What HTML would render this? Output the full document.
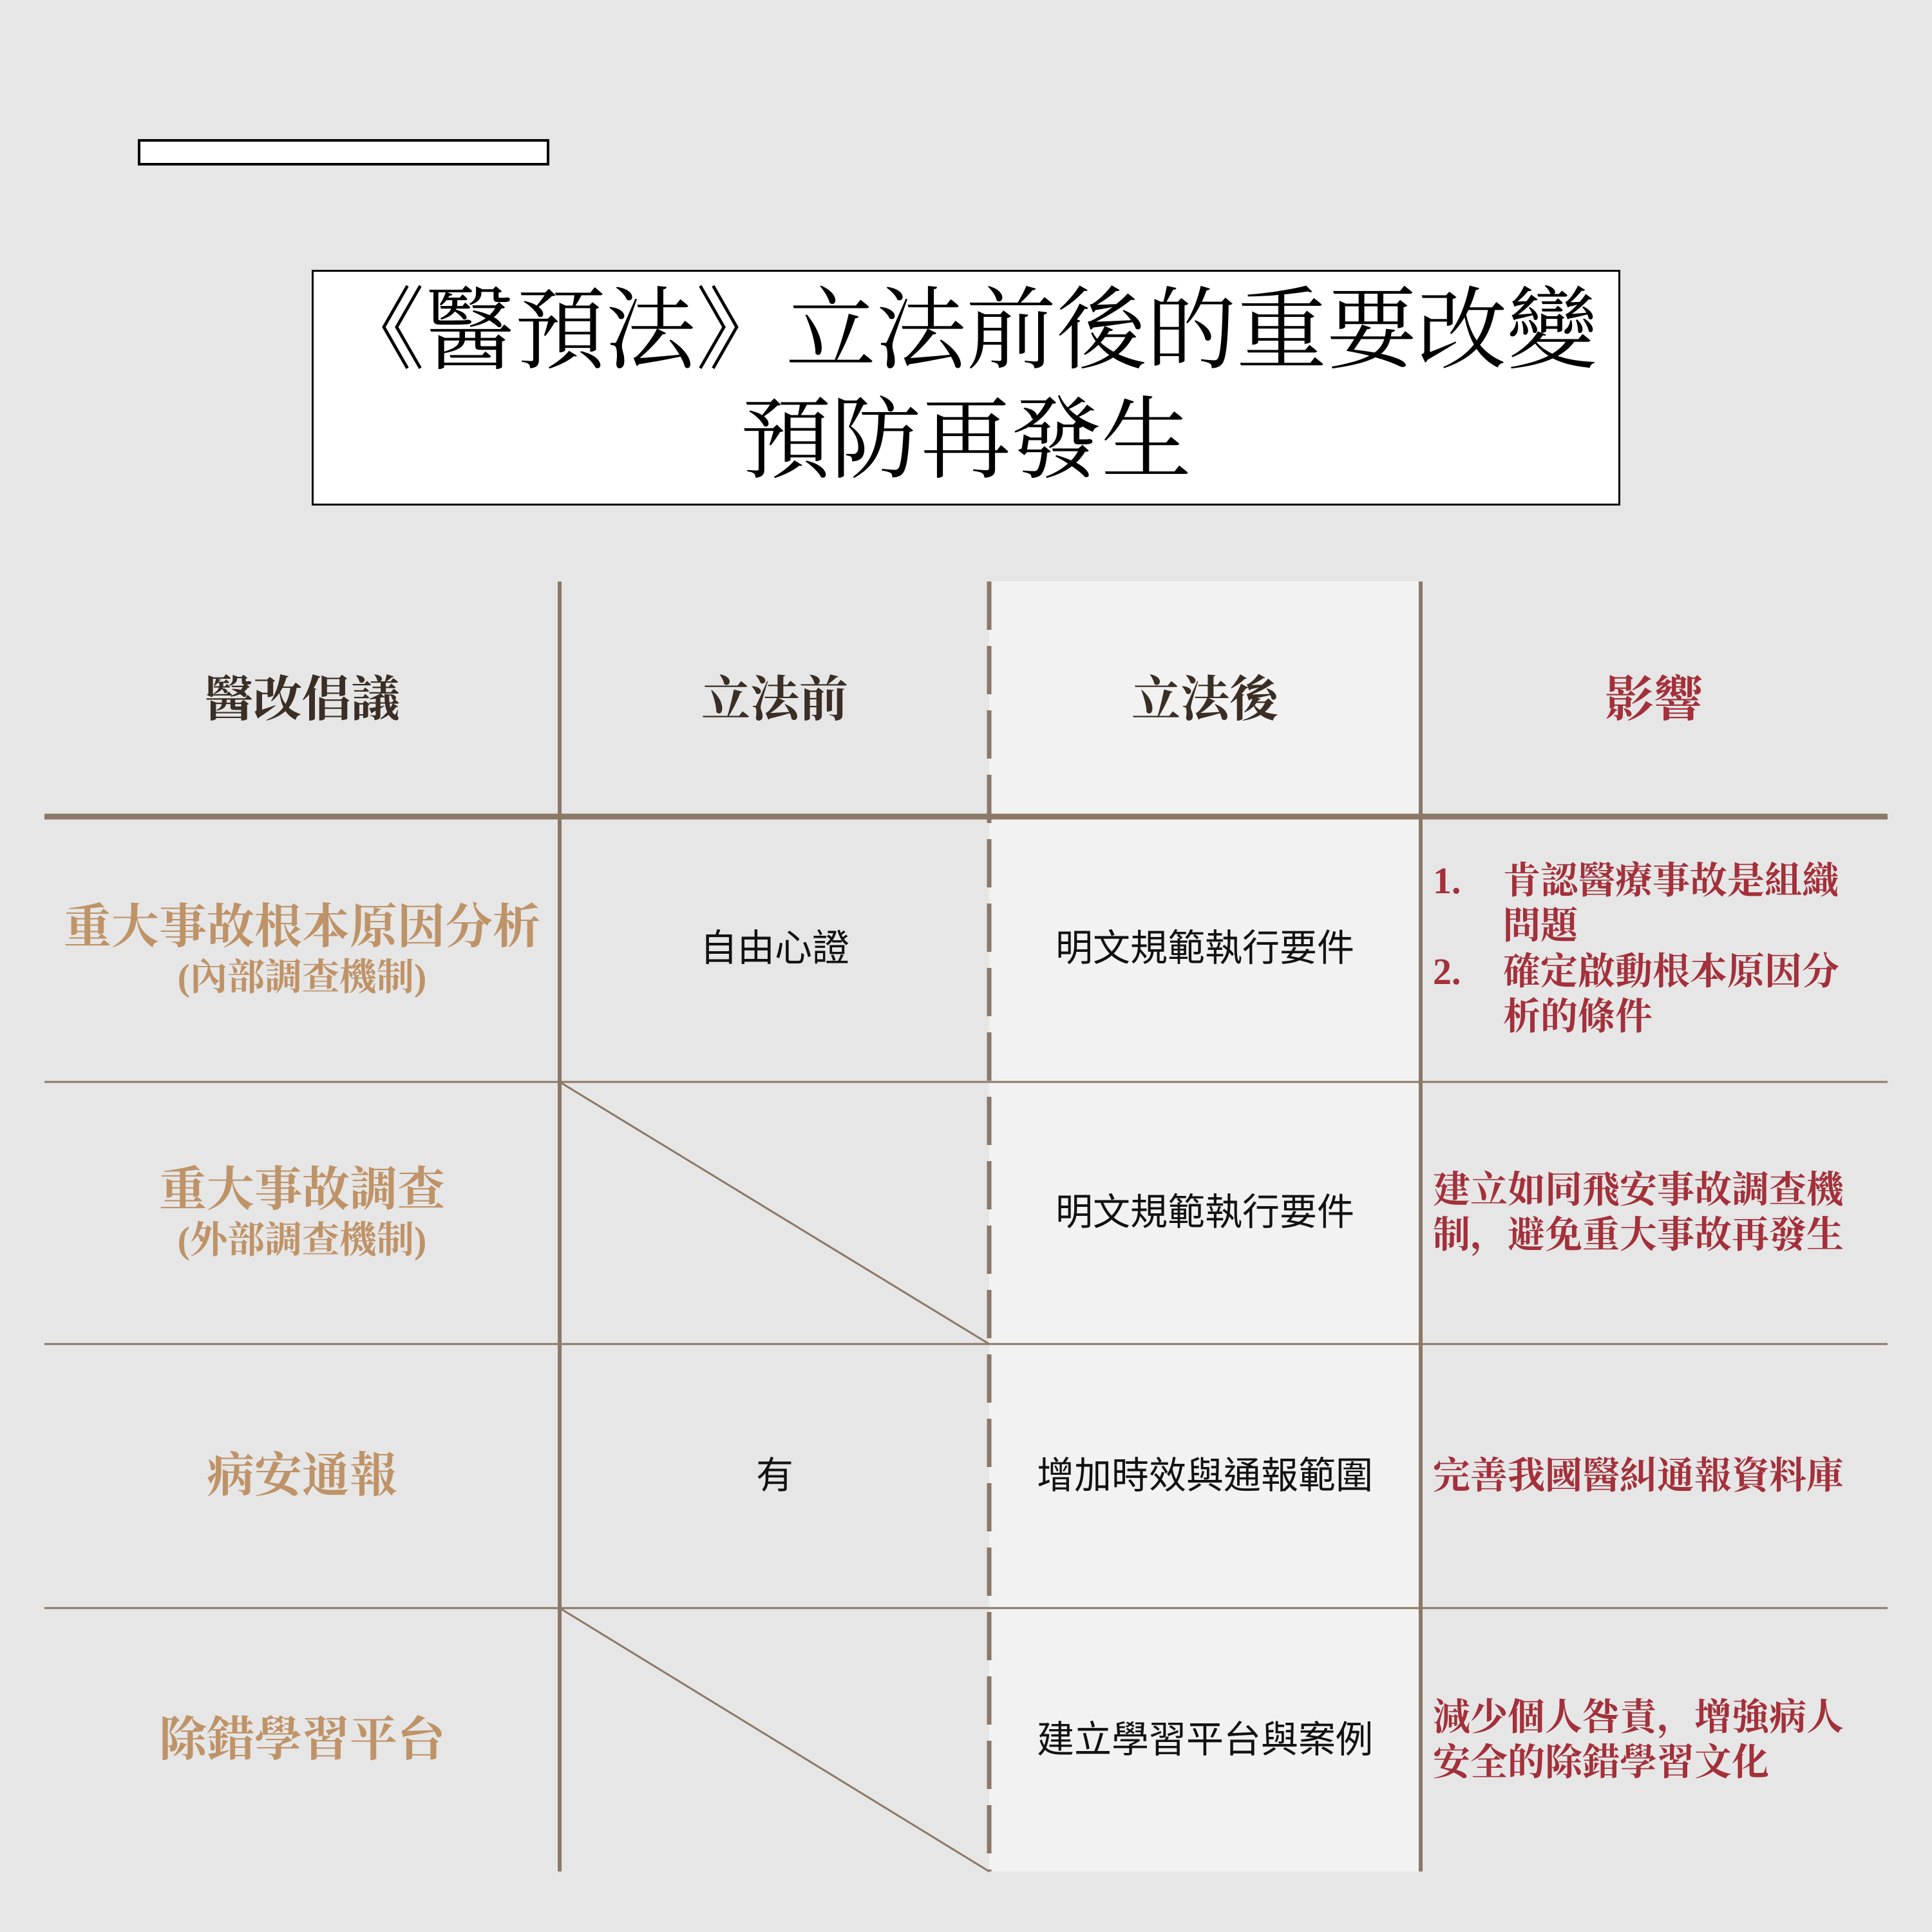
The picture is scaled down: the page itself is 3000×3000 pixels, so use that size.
<!DOCTYPE html>
<html><head><meta charset="utf-8"><style>
html,body{margin:0;padding:0}
body{width:3000px;height:3000px;background:#e6e6e6;position:relative;overflow:hidden;font-family:"Liberation Serif","Noto Serif CJK SC",serif}
.t{position:absolute;white-space:nowrap;text-align:center;transform:translate(-50%,-50%);line-height:1}
.h{font-weight:bold;font-size:76px;color:#3a2e25}
.c1{font-weight:bold;color:#bf9368;font-size:74px}
.c1 small{font-size:58px;display:block;margin-top:12px}
.s{font-family:"Liberation Sans","Noto Sans CJK TC",sans-serif;font-size:58px;color:#111}
.r{position:absolute;font-weight:bold;color:#a3303a;font-size:58px;line-height:70px;white-space:nowrap}
</style></head><body>
<div style="position:absolute;left:214px;top:216px;width:631px;height:33px;background:#fff;border:4px solid #000"></div>
<div style="position:absolute;left:484px;top:419px;width:2026px;height:360px;background:#fff;border:3px solid #000"></div>
<div class="t" style="left:1500px;top:515px;font-size:140px;color:#000;font-family:'Liberation Serif','Noto Serif CJK TC','Noto Serif CJK SC',serif">《醫預法》立法前後的重要改變</div>
<div class="t" style="left:1500px;top:685px;font-size:140px;color:#000;font-family:'Liberation Serif','Noto Serif CJK TC','Noto Serif CJK SC',serif">預防再發生</div>
<svg width="3000" height="3000" style="position:absolute;left:0;top:0">
<rect x="1536" y="903" width="670" height="2003" fill="#f2f2f2"/>
<g stroke="#8b7866">
<line x1="869" y1="903" x2="869" y2="2906" stroke-width="6"/>
<line x1="2206" y1="903" x2="2206" y2="2906" stroke-width="6"/>
<line x1="1536" y1="903" x2="1536" y2="2906" stroke-width="7" stroke-dasharray="75,25"/>
<line x1="69" y1="1268" x2="2931" y2="1268" stroke-width="9"/>
<line x1="69" y1="1680" x2="2931" y2="1680" stroke-width="3"/>
<line x1="69" y1="2087" x2="2931" y2="2087" stroke-width="3"/>
<line x1="69" y1="2497" x2="2931" y2="2497" stroke-width="3"/>
<line x1="869" y1="1680" x2="1536" y2="2087" stroke-width="3"/>
<line x1="869" y1="2497" x2="1536" y2="2906" stroke-width="3"/>
</g></svg>
<div class="t h" style="left:469px;top:1087px">醫改倡議</div>
<div class="t h" style="left:1203px;top:1087px">立法前</div>
<div class="t h" style="left:1871px;top:1087px">立法後</div>
<div class="t h" style="left:2568px;top:1087px;color:#a3303a">影響</div>

<div class="t c1" style="left:469px;top:1475px">重大事故根本原因分析<small>(內部調查機制)</small></div>
<div class="t c1" style="left:469px;top:1883px">重大事故調查<small>(外部調查機制)</small></div>
<div class="t c1" style="left:469px;top:2292px">病安通報</div>
<div class="t c1" style="left:469px;top:2702px">除錯學習平台</div>

<div class="t s" style="left:1203px;top:1473px">自由心證</div>
<div class="t s" style="left:1203px;top:2292px">有</div>
<div class="t s" style="left:1871px;top:1473px">明文規範執行要件</div>
<div class="t s" style="left:1871px;top:1883px">明文規範執行要件</div>
<div class="t s" style="left:1871px;top:2292px">增加時效與通報範圍</div>
<div class="t s" style="left:1871px;top:2702px">建立學習平台與案例</div>

<div class="r" style="left:2225px;top:1333px">1.</div>
<div class="r" style="left:2334px;top:1333px">肯認醫療事故是組織<br>問題</div>
<div class="r" style="left:2225px;top:1474px">2.</div>
<div class="r" style="left:2334px;top:1474px">確定啟動根本原因分<br>析的條件</div>
<div class="r" style="left:2225px;top:1813px">建立如同飛安事故調查機<br>制，避免重大事故再發生</div>
<div class="r" style="left:2225px;top:2257px">完善我國醫糾通報資料庫</div>
<div class="r" style="left:2225px;top:2632px">減少個人咎責，增強病人<br>安全的除錯學習文化</div>
</body></html>
